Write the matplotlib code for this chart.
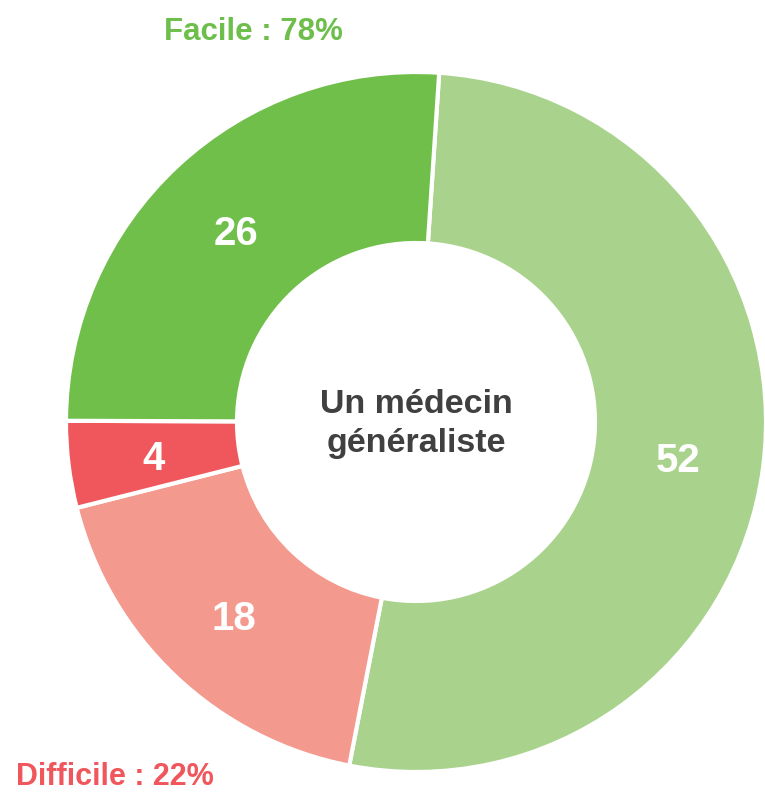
import matplotlib
matplotlib.use("Agg")
import matplotlib.pyplot as plt

values = [52, 18, 4, 26]
labels = ["52", "18", "4", "26"]
colors = ["#A9D38D", "#F4998E", "#F0575C", "#70BF4A"]
center_label = "Un médecin\ngénéraliste"
group_labels = ["Facile : 78%", "Difficile : 22%"]
group_colors = ["#6DBE4B", "#F0575C"]

W, H = 765, 792
fig = plt.figure(figsize=(W / 100, H / 100), dpi=100)
ax = fig.add_axes([0, 0, 1, 1])

cx, cy, R = 416, H - 422, 350
inner = 179

wedges, texts = ax.pie(
    values, colors=colors, startangle=90 - 3.8, counterclock=False,
    center=(cx, cy), radius=R, labels=labels,
    labeldistance=(R + inner) / 2 / R,
    wedgeprops=dict(width=R - inner, edgecolor="white", linewidth=3),
    textprops=dict(color="white", fontsize=29, fontweight="bold",
                   family="Liberation Sans", ha="center", va="center"),
    frame=True,
)
for t in texts:
    x, y = t.get_position()
    t.set_position((x, y - 5))
    t.set_ha("center")
    t.set_va("center")
ax.set_xlim(0, W)
ax.set_ylim(0, H)
ax.set_aspect("auto")
ax.axis("off")

ax.text(cx, cy - 2, center_label, ha="center", va="center", fontsize=24.5,
        fontweight="bold", color="#404040", family="Liberation Sans",
        linespacing=1.3)

ax.text(253, H - 32, group_labels[0], ha="center", va="center", fontsize=22.5,
        fontweight="bold", color=group_colors[0], family="Liberation Sans")
ax.text(115, H - 777, group_labels[1], ha="center", va="center", fontsize=22,
        fontweight="bold", color=group_colors[1], family="Liberation Sans")

fig.savefig("out.png", dpi=100)
